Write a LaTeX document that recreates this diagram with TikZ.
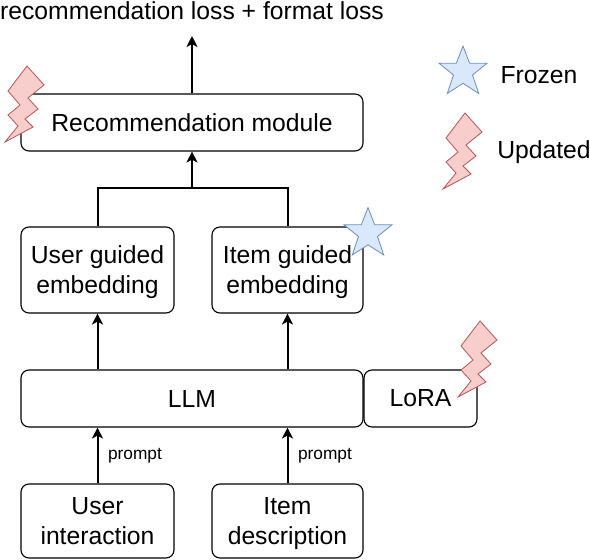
\documentclass[tikz,border=0pt]{standalone}
\usepackage{fontspec}
\setmainfont{Liberation Sans}
\usetikzlibrary{arrows.meta}
\newcommand{\firstline}{\rule{0pt}{25.8pt}}
\tikzset{
  x=1pt,y=-1pt,
  box/.style={draw=black,line width=1.1pt,rounded corners=8pt,fill=white,align=center,inner sep=0pt,font=\fontsize{24.7}{30.5}\selectfont},
  wire/.style={draw=black,line width=2pt},
  arrow/.style={wire,-{Stealth[length=11pt,width=11pt,inset=3pt]}},
  tag/.style={font=\fontsize{17.3}{20}\selectfont,inner sep=0pt},
  plain/.style={font=\fontsize{24.7}{28}\selectfont,inner sep=0pt},
  pics/bolt/.style={code={
    \draw[draw=boltline,fill=boltfill,line width=.8pt,line join=miter]
      (0,0)--(17,19)--(1,32)--(11,43)--(-2,53)--(6,61)--(-22,76)--(-9,60)--(-19,49)--(-7,39)--(-19,25)--cycle;}},
  pics/starmark/.style={code={
    \draw[draw=starline,fill=starfill,line width=.8pt,line join=miter]
      (0,0)--(6.7,17.3)--(24,17.3)--(9.5,29)--(15.7,47.5)--(0,37.3)--(-15.7,47.5)--(-9.5,29)--(-24,17.3)--(-6.7,17.3)--cycle;}},
}
\definecolor{boltfill}{HTML}{F8CECC}
\definecolor{boltline}{HTML}{B85450}
\definecolor{starfill}{HTML}{DAE8FC}
\definecolor{starline}{HTML}{6C8EBF}
\begin{document}
\begin{tikzpicture}
\useasboundingbox (0,0) rectangle (590,560);
\node[box,minimum width=342pt,minimum height=57pt] (rec) at (192,122.5) {Recommendation module};
\node[box,minimum width=153pt,minimum height=86pt] (user) at (97.5,270) {\firstline\strut User guided\\\strut embedding};
\node[box,minimum width=151pt,minimum height=86pt] (item) at (287.5,270) {\firstline\strut Item guided\\\strut embedding};
\node[box,minimum width=342pt,minimum height=57pt] (llm) at (192,398.5) {LLM};
\node[box,minimum width=113pt,minimum height=57pt] (lora) at (420.5,398.5) {LoRA};
\node[box,minimum width=153pt,minimum height=74pt] (ui) at (97.5,521) {\firstline\strut User\\\strut interaction};
\node[box,minimum width=151pt,minimum height=74pt] (id) at (287.5,521) {\firstline\strut Item\\\strut description};
\node[plain] (loss) at (192,10.5) {recommendation loss + format loss};
\coordinate (lossend) at (192,36);
\coordinate (join) at (192,188);
\node[tag] (p1) at (135,455.5) {prompt};
\node[tag] (p2) at (325,455.5) {prompt};
\node[plain] (frozen) at (539,75) {Frozen};
\node[plain] (updated) at (544,152.5) {Updated};
\draw[arrow] (rec.north) -- (lossend);
\draw[wire] (user.north) |- (join) -| (item.north);
\draw[arrow] (join) -- (rec.south);
\draw[arrow] (llm.north -| user) -- (user.south);
\draw[arrow] (llm.north -| item) -- (item.south);
\draw[arrow] (ui.north) -- (llm.south -| ui);
\draw[arrow] (id.north) -- (llm.south -| id);
\pic at (27,66) {bolt};
\pic at (465,113) {bolt};
\pic at (480,321) {bolt};
\pic at (463,46) {starmark};
\pic at (368,207.5) {starmark};
\end{tikzpicture}
\end{document}
